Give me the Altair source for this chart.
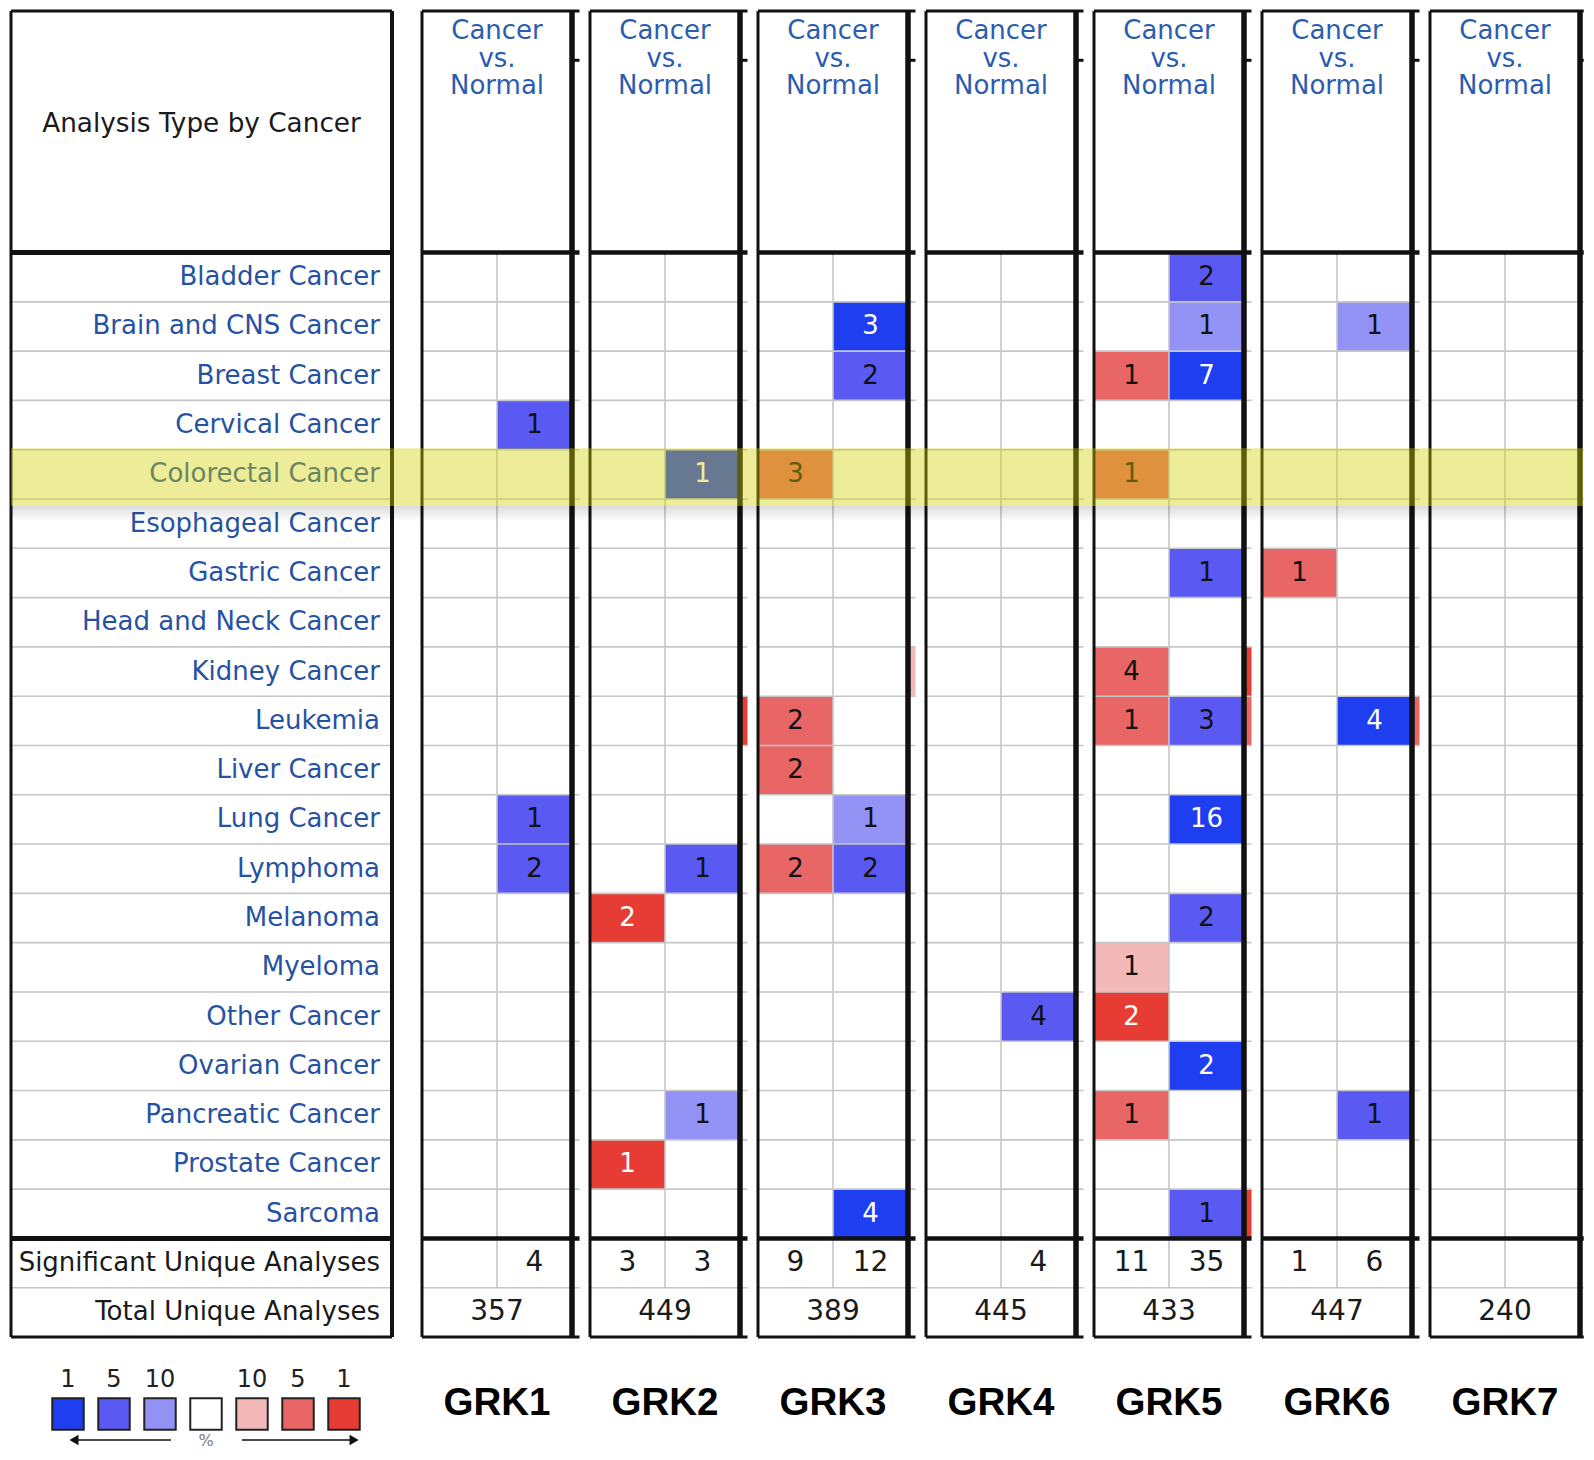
import altair as alt
import pandas as pd

# ---------------- data ----------------
CANCERS = ["Bladder Cancer", "Brain and CNS Cancer", "Breast Cancer", "Cervical Cancer",
           "Colorectal Cancer", "Esophageal Cancer", "Gastric Cancer", "Head and Neck Cancer",
           "Kidney Cancer", "Leukemia", "Liver Cancer", "Lung Cancer", "Lymphoma", "Melanoma",
           "Myeloma", "Other Cancer", "Ovarian Cancer", "Pancreatic Cancer", "Prostate Cancer",
           "Sarcoma"]
FOOTER_ROWS = ["Significant Unique Analyses", "Total Unique Analyses"]
LEFT_HEADER = "Analysis Type by Cancer"
HEADER_LINES = ["Cancer", "vs.", "Normal"]
GENES = ["GRK1", "GRK2", "GRK3", "GRK4", "GRK5", "GRK6", "GRK7"]
HIGHLIGHT = "Colorectal Cancer"

# (direction, cancer type, number of analyses, gene rank threshold %)
GRK1_CELLS = [("down", "Cervical Cancer", 1, 5), ("down", "Lung Cancer", 1, 5),
              ("down", "Lymphoma", 2, 5)]
GRK2_CELLS = [("down", "Colorectal Cancer", 1, 1), ("down", "Lymphoma", 1, 5),
              ("up", "Melanoma", 2, 1), ("down", "Pancreatic Cancer", 1, 10),
              ("up", "Prostate Cancer", 1, 1)]
GRK3_CELLS = [("down", "Brain and CNS Cancer", 3, 1), ("down", "Breast Cancer", 2, 5),
              ("up", "Colorectal Cancer", 3, 5), ("up", "Leukemia", 2, 5),
              ("up", "Liver Cancer", 2, 5), ("down", "Lung Cancer", 1, 10),
              ("up", "Lymphoma", 2, 5), ("down", "Lymphoma", 2, 5), ("down", "Sarcoma", 4, 1)]
GRK4_CELLS = [("down", "Other Cancer", 4, 5)]
GRK5_CELLS = [("down", "Bladder Cancer", 2, 5), ("down", "Brain and CNS Cancer", 1, 10),
              ("up", "Breast Cancer", 1, 5), ("down", "Breast Cancer", 7, 1),
              ("up", "Colorectal Cancer", 1, 5), ("down", "Gastric Cancer", 1, 5),
              ("up", "Kidney Cancer", 4, 5), ("up", "Leukemia", 1, 5), ("down", "Leukemia", 3, 5),
              ("down", "Lung Cancer", 16, 1), ("down", "Melanoma", 2, 5),
              ("up", "Myeloma", 1, 10), ("up", "Other Cancer", 2, 1),
              ("down", "Ovarian Cancer", 2, 1), ("up", "Pancreatic Cancer", 1, 5),
              ("down", "Sarcoma", 1, 5)]
GRK6_CELLS = [("down", "Brain and CNS Cancer", 1, 10), ("up", "Gastric Cancer", 1, 5),
              ("down", "Leukemia", 4, 1), ("down", "Pancreatic Cancer", 1, 5)]
GRK7_CELLS = []
CELLS = {"GRK1": GRK1_CELLS, "GRK2": GRK2_CELLS, "GRK3": GRK3_CELLS, "GRK4": GRK4_CELLS,
         "GRK5": GRK5_CELLS, "GRK6": GRK6_CELLS, "GRK7": GRK7_CELLS}

SIG_UP = [None, 3, 9, None, 11, 1, None]
SIG_DOWN = [4, 3, 12, 4, 35, 6, None]
TOTAL = [357, 449, 389, 445, 433, 447, 240]

# partly visible cells of the next (cropped-off) analysis column
EDGE_GRK2 = [("Leukemia", 1)]
EDGE_GRK3 = [("Kidney Cancer", 10)]
EDGE_GRK5 = [("Kidney Cancer", 1), ("Leukemia", 5), ("Sarcoma", 1)]
EDGE_GRK6 = [("Leukemia", 5)]
EDGES = {"GRK2": EDGE_GRK2, "GRK3": EDGE_GRK3, "GRK5": EDGE_GRK5, "GRK6": EDGE_GRK6}

LEGEND_LABELS = ["1", "5", "10", "", "10", "5", "1"]
LEGEND_KEYS = ["down-1", "down-5", "down-10", "none", "up-10", "up-5", "up-1"]
LEGEND_COLORS = ["#1f3ef0", "#5a5af2", "#9393f6", "#ffffff", "#f3b9b9", "#e96667", "#e73c33"]

# ---------------- layout / style ----------------
FONT = "DejaVu Sans"
BLUE_TEXT = "#2652a3"
GRID = "#c6c6c6"
INK = "#111111"
ROW_PX = 49.3
H = 4.9                      # header height in row units
N_BODY, N_FOOT = 20, 2
N_UNITS = H + N_BODY + N_FOOT
TABLE_H = round(N_UNITS * ROW_PX)
LEFT_PANEL_W, LEFT_PAD = 381, 12      # left panel box and extra gap after it
LEFT_W = LEFT_PANEL_W + LEFT_PAD
GENE_W, BOTTOM_H, COL_GAP = 150, 111, 18
BAND_L = 8               # px of highlight band left of each gene panel
EXT = 0.1                # line overhang right of gene panels (column units)
EXT_LAST = 0.05

YS = alt.Scale(domain=[0, N_UNITS], reverse=True, nice=False, zero=False)
XG = alt.Scale(domain=[0, 2], nice=False, zero=False)
XL = alt.Scale(domain=[0, LEFT_W / LEFT_PANEL_W], nice=False, zero=False)
COLOR = alt.Scale(domain=LEGEND_KEYS, range=LEGEND_COLORS)


def X(f, sc):
    return alt.X(f, type="quantitative", scale=sc, axis=None)


def Y(f, sc=YS):
    return alt.Y(f, type="quantitative", scale=sc, axis=None)


def hrules(ys, x0, x1, sc, width, color):
    df = pd.DataFrame({"y": ys, "x0": x0, "x1": x1})
    return alt.Chart(df).mark_rule(strokeWidth=width, color=color).encode(
        x=X("x0", sc), x2=alt.X2("x1"), y=Y("y"))


def vrules(xs, y0, y1, sc, width, color):
    df = pd.DataFrame({"x": xs, "y0": y0, "y1": y1})
    return alt.Chart(df).mark_rule(strokeWidth=width, color=color).encode(
        x=X("x", sc), y=Y("y0"), y2=alt.Y2("y1"))


def band_layers(x0, x1, sc):
    r = CANCERS.index(HIGHLIGHT) + H
    df = pd.DataFrame({"x0": [x0], "x1": [x1], "y0": [r - 0.03], "y1": [r + 1.14],
                       "s1": [r + 1.45]})
    band = alt.Chart(df).mark_rect(fill="#d2d200", opacity=0.4).encode(
        x=X("x0", sc), x2=alt.X2("x1"), y=Y("y0"), y2=alt.Y2("y1"))
    shade = alt.Chart(df).mark_rect(fill={
        "gradient": "linear", "x1": 0, "y1": 0, "x2": 0, "y2": 1,
        "stops": [{"offset": 0, "color": "rgba(0,0,0,0.14)"},
                  {"offset": 1, "color": "rgba(0,0,0,0)"}]}).encode(
        x=X("x0", sc), x2=alt.X2("x1"), y=Y("y1"), y2=alt.Y2("s1"))
    return [band, shade]


thin_ys = [H + i for i in range(1, N_BODY)] + [H + N_BODY + 1]
thick_ys = [H, H + N_BODY]
edge_ys = [0, N_UNITS]

# ---------------- left panel ----------------
rows_df = pd.DataFrame({"label": CANCERS, "yc": [H + i + 0.5 for i in range(N_BODY)]})
foot_df = pd.DataFrame({"label": FOOTER_ROWS,
                        "yc": [H + N_BODY + i + 0.5 for i in range(N_FOOT)]})
head_df = pd.DataFrame({"label": [LEFT_HEADER]})

left_layers = [
    hrules(thin_ys, 0, 1, XL, 1.6, GRID),
    alt.Chart(rows_df).mark_text(align="right", baseline="middle", dx=-12, font=FONT,
                                 fontSize=26, color=BLUE_TEXT).encode(
        x=alt.X(datum=1, type="quantitative", scale=XL, axis=None), y=Y("yc"), text="label:N"),
    alt.Chart(foot_df).mark_text(align="right", baseline="middle", dx=-12, font=FONT,
                                 fontSize=26, color="#1a1a1a").encode(
        x=alt.X(datum=1, type="quantitative", scale=XL, axis=None), y=Y("yc"), text="label:N"),
    alt.Chart(head_df).mark_text(align="center", baseline="middle", font=FONT,
                                 fontSize=26.3, color="#1a1a1a").encode(
        x=alt.X(datum=0.5, type="quantitative", scale=XL, axis=None),
        y=alt.Y(datum=2.3, type="quantitative", scale=YS, axis=None), text="label:N"),
    hrules(thick_ys, 0, 1, XL, 5, INK),
    hrules(edge_ys, 0, 1, XL, 3, INK),
    vrules([0], 0, N_UNITS, XL, 3, INK),
    vrules([1], 0, N_UNITS, XL, 4, INK),
] + band_layers(0, (LEFT_W + COL_GAP - BAND_L) / LEFT_PANEL_W, XL)

left_table = alt.layer(*left_layers).properties(width=LEFT_W, height=TABLE_H)

# legend under the left panel (item i centred at 57 + 46*i px)
LX = alt.Scale(domain=[-57 / 46, (LEFT_W - 57) / 46], nice=False, zero=False)
LY = alt.Scale(domain=[0, BOTTOM_H], reverse=True, nice=False, zero=False)
leg_df = pd.DataFrame({"i": list(range(7)), "label": LEGEND_LABELS, "key": LEGEND_KEYS})
ARROW_TAIL = [2.24, 3.78]
ARROW_HEAD = [0.13, 6.22]
arrow_df = pd.DataFrame({"t": ARROW_TAIL, "h": ARROW_HEAD,
                         "shape": ["triangle-left", "triangle-right"]})
legend_chart = alt.layer(
    alt.Chart(leg_df).mark_square(size=990, stroke="#222", strokeWidth=2, opacity=1).encode(
        x=X("i", LX), y=alt.Y(datum=77, type="quantitative", scale=LY, axis=None),
        fill=alt.Fill("key:N", scale=COLOR, legend=None)),
    alt.Chart(leg_df).mark_text(font=FONT, fontSize=24, color="#222").encode(
        x=X("i", LX), y=alt.Y(datum=43, type="quantitative", scale=LY, axis=None),
        text="label:N"),
    alt.Chart(arrow_df).mark_rule(strokeWidth=1.5, color=INK).encode(
        x=X("t", LX), x2=alt.X2("h"),
        y=alt.Y(datum=103, type="quantitative", scale=LY, axis=None)),
    alt.Chart(arrow_df).mark_point(filled=True, size=110, color=INK, opacity=1).encode(
        x=X("h", LX), y=alt.Y(datum=103, type="quantitative", scale=LY, axis=None),
        shape=alt.Shape("shape:N", scale=None)),
    alt.Chart(pd.DataFrame({"t": ["%"]})).mark_text(font=FONT, fontSize=16, color="#7a7a7a").encode(
        x=alt.X(datum=3, type="quantitative", scale=LX, axis=None),
        y=alt.Y(datum=104, type="quantitative", scale=LY, axis=None), text="t:N"),
).properties(width=LEFT_W, height=BOTTOM_H)


# ---------------- gene panels ----------------
def cell_frame(gene):
    rows = []
    for d, c, n, lv in CELLS[gene]:
        x0 = 0 if d == "up" else 1
        r = CANCERS.index(c) + H
        rows.append({"x0": x0, "x1": x0 + 1, "xc": x0 + 0.5, "y0": r, "y1": r + 1,
                     "yc": r + 0.5, "n": str(n), "key": f"{d}-{lv}", "level": lv})
    return pd.DataFrame(rows)


head_lines_df = pd.DataFrame({"t": HEADER_LINES,
                              "y": [0.41 + i * 27.3 / ROW_PX for i in range(len(HEADER_LINES))]})


def gene_table(gi):
    g = GENES[gi]
    last = gi == len(GENES) - 1
    ext = EXT_LAST if last else EXT
    layers = []
    cells = cell_frame(g)
    edge = EDGES.get(g, [])
    if edge:
        edf = pd.DataFrame({"x0": 2, "x1": 2 + ext,
                            "y0": [CANCERS.index(c) + H for c, _ in edge],
                            "key": [f"up-{lv}" for _, lv in edge]})
        edf["y1"] = edf["y0"] + 1
        layers.append(alt.Chart(edf).mark_rect().encode(
            x=X("x0", XG), x2=alt.X2("x1"), y=Y("y0"), y2=alt.Y2("y1"),
            fill=alt.Fill("key:N", scale=COLOR, legend=None)))
    if len(cells):
        layers.append(alt.Chart(cells).mark_rect().encode(
            x=X("x0", XG), x2=alt.X2("x1"), y=Y("y0"), y2=alt.Y2("y1"),
            fill=alt.Fill("key:N", scale=COLOR, legend=None)))
    layers.append(hrules(thin_ys, 0, 2 + ext, XG, 1.6, GRID))
    layers.append(vrules([1], H, H + N_BODY + 1, XG, 1.6, GRID))
    if len(cells):
        layers.append(alt.Chart(cells).mark_text(font=FONT, fontSize=26, baseline="middle").encode(
            x=X("xc", XG), y=Y("yc"), text="n:N",
            color=alt.condition("datum.level == 1", alt.value("white"), alt.value(INK))))
    foot = []
    if SIG_UP[gi] is not None:
        foot.append({"x": 0.5, "y": H + N_BODY + 0.5, "t": str(SIG_UP[gi])})
    if SIG_DOWN[gi] is not None:
        foot.append({"x": 1.5, "y": H + N_BODY + 0.5, "t": str(SIG_DOWN[gi])})
    foot.append({"x": 1.0, "y": H + N_BODY + 1.5, "t": str(TOTAL[gi])})
    layers.append(alt.Chart(pd.DataFrame(foot)).mark_text(
        font=FONT, fontSize=28, baseline="middle", color="#1a1a1a").encode(
        x=X("x", XG), y=Y("y"), text="t:N"))
    layers.append(alt.Chart(head_lines_df).mark_text(
        font=FONT, fontSize=26, baseline="middle", color="#2a5cb0").encode(
        x=alt.X(datum=1, type="quantitative", scale=XG, axis=None), y=Y("y"), text="t:N"))
    layers.append(hrules(thick_ys, 0, 2 + ext, XG, 4.5, INK))
    layers.append(hrules(edge_ys, 0, 2 + ext, XG, 3, INK))
    layers.append(hrules([1], 2, 2 + ext, XG, 3, INK))
    layers.append(vrules([0], 0, N_UNITS, XG, 3, INK))
    layers.append(vrules([2], 0, N_UNITS, XG, 5.5, INK))
    band_r = 3 if last else COL_GAP - BAND_L
    layers += band_layers(-BAND_L / (GENE_W / 2), 2 + band_r / (GENE_W / 2), XG)
    return alt.layer(*layers).properties(width=GENE_W, height=TABLE_H)


def gene_label(gi):
    return alt.Chart(pd.DataFrame({"g": [GENES[gi]]})).mark_text(
        font="Liberation Sans", fontWeight="bold", fontSize=38.5, color="#000",
        baseline="middle").encode(
        x=alt.X(datum=1, type="quantitative", scale=XG, axis=None),
        y=alt.Y(datum=66, type="quantitative", scale=LY, axis=None), text="g:N"
    ).properties(width=GENE_W, height=BOTTOM_H)


top_row = [left_table] + [gene_table(i) for i in range(len(GENES))]
bottom_row = [legend_chart] + [gene_label(i) for i in range(len(GENES))]

chart = alt.concat(
    *(top_row + bottom_row), columns=len(top_row),
    spacing={"row": 0, "column": COL_GAP}, bounds="flush", align="each"
).properties(padding=0).configure(font=FONT).configure_view(stroke="transparent", strokeWidth=0)

chart.save("out.html", embed_options={"renderer": "svg", "actions": False})
